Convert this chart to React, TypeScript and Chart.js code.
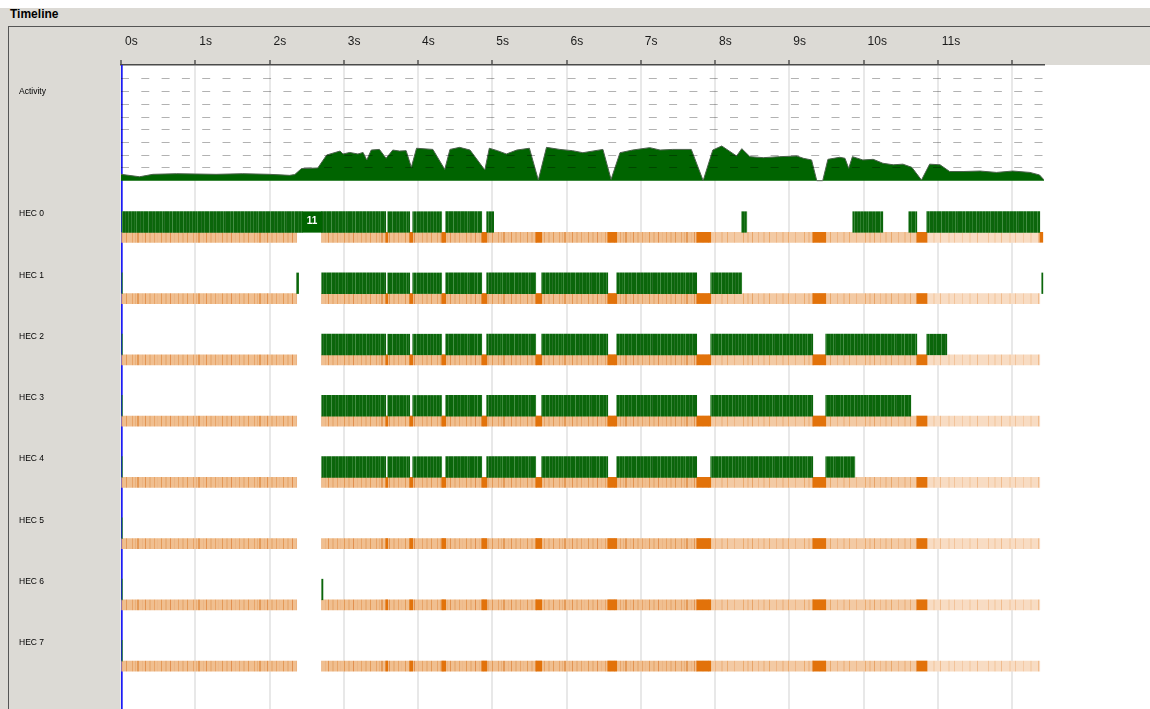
import React, { useEffect, useRef } from 'react';
import { Chart, registerables } from 'chart.js';

Chart.register(...registerables);

// ---- time axis (seconds) ----
const tickValues = [0, 1, 2, 3, 4, 5, 6, 7, 8, 9, 10, 11, 12];
const tickLabels = ['0s', '1s', '2s', '3s', '4s', '5s', '6s', '7s', '8s', '9s', '10s', '11s', ''];
const timeMax = 12.43;
const cursorTime = 0;

// ---- activity profile (number of busy capabilities) ----
const activityTime = [
  0.0, 0.25, 0.43, 0.75, 1.28, 1.64, 2.0, 2.27, 2.34, 2.43, 2.65, 2.77, 2.95, 2.99, 3.08, 3.19,
  3.26, 3.31, 3.37, 3.48, 3.57, 3.66, 3.75, 3.84, 3.91, 3.98, 4.2, 4.36, 4.43, 4.56, 4.7, 4.9,
  4.96, 5.07, 5.19, 5.33, 5.5, 5.62, 5.73, 5.91, 6.08, 6.22, 6.49, 6.6, 6.72, 6.89, 7.12, 7.26,
  7.43, 7.68, 7.84, 7.97, 8.09, 8.2, 8.29, 8.36, 8.47, 8.65, 8.87, 9.1, 9.19, 9.3, 9.37, 9.45,
  9.52, 9.68, 9.75, 9.8, 9.85, 9.99, 10.13, 10.26, 10.4, 10.53, 10.65, 10.78, 10.89, 11.03, 11.16,
  11.34, 11.57, 11.79, 12.01, 12.24, 12.37, 12.44,
];
const activityValue = [
  0.5, 0.31, 0.5, 0.55, 0.5, 0.55, 0.5, 0.42, 0.48, 0.95, 1.0, 2.02, 2.33, 2.1, 2.22, 2.1,
  2.22, 1.63, 2.41, 2.46, 1.76, 2.41, 2.33, 2.36, 1.05, 2.55, 2.46, 0.89, 2.46, 2.62, 2.41, 0.84,
  2.55, 2.36, 2.1, 2.41, 2.55, 0.05, 2.62, 2.46, 2.36, 2.2, 2.46, 0.1, 2.2, 2.41, 2.6, 2.41,
  2.46, 2.46, 0.0, 2.41, 2.73, 2.3, 1.94, 2.52, 1.89, 1.81, 1.89, 1.94, 1.76, 1.63, 0.0, 0.0,
  1.68, 1.84, 1.76, 0.97, 1.89, 1.63, 1.68, 1.37, 1.25, 1.3, 1.05, 0.05, 1.3, 1.25, 0.72,
  0.72, 0.76, 0.65, 0.76, 0.65, 0.45, 0.0,
];
const activityGridLevels = [1, 2, 3, 4, 5, 6, 7, 8];

// ---- capabilities ----
const hecNames = ['HEC 0', 'HEC 1', 'HEC 2', 'HEC 3', 'HEC 4', 'HEC 5', 'HEC 6', 'HEC 7'];

// running spans [start, end] in seconds
const hec0Runs = [
  [0.0, 2.44], [2.703, 3.565], [3.592, 3.888], [3.929, 4.319], [4.373, 4.858], [4.925, 5.019],
  [8.359, 8.427], [9.855, 10.259], [10.609, 10.717], [10.852, 12.373],
];
const hec1Runs = [
  [0.0, 0.02], [2.366, 2.393], [2.703, 3.565], [3.592, 3.888], [3.929, 4.319], [4.373, 4.858],
  [4.925, 5.585], [5.666, 6.555], [6.676, 7.753], [7.942, 8.359], [12.4, 12.415],
];
const hec2Runs = [
  [0.0, 0.02], [2.703, 3.565], [3.592, 3.888], [3.929, 4.319], [4.373, 4.858], [4.925, 5.585],
  [5.666, 6.555], [6.676, 7.753], [7.942, 9.316], [9.491, 10.717], [10.852, 11.121],
];
const hec3Runs = [
  [0.0, 0.02], [2.703, 3.565], [3.592, 3.888], [3.929, 4.319], [4.373, 4.858], [4.925, 5.585],
  [5.666, 6.555], [6.676, 7.753], [7.942, 9.316], [9.491, 10.636],
];
const hec4Runs = [
  [0.0, 0.02], [2.703, 3.565], [3.592, 3.888], [3.929, 4.319], [4.373, 4.858], [4.925, 5.585],
  [5.666, 6.555], [6.676, 7.753], [7.942, 9.316], [9.491, 9.882],
];
const hec5Runs = [[0.0, 0.02]];
const hec6Runs = [[0.0, 0.02], [2.703, 2.72]];
const hec7Runs = [[0.0, 0.02]];
const runsByHec = [hec0Runs, hec1Runs, hec2Runs, hec3Runs, hec4Runs, hec5Runs, hec6Runs, hec7Runs];

// long uninterrupted runs labelled with their thread id
const threadRunHec = [0];
const threadRunSpan = [[2.44, 2.703]];
const threadRunLabel = ['11'];

// GC activity strip: spans and density level (0 dense, 1 medium, 2 sparse)
const gcStripSpans = [[0.01, 2.366], [2.703, 7.753], [7.753, 9.316], [9.316, 10.717], [10.717, 12.373]];
const gcStripLevel = [0, 0, 1, 1, 2];
// stop-the-world collections, shared by every capability
const stwGcSpans = [
  [3.565, 3.592], [3.888, 3.929], [4.319, 4.373], [4.858, 4.925], [5.585, 5.666],
  [6.555, 6.676], [7.753, 7.942], [9.316, 9.491], [10.717, 10.852],
];
const tailGcHec = [0];
const tailGcSpan = [[12.373, 12.414]];

// ---- layout ----
const CANVAS_W = 1141;
const CANVAS_H = 682;
const AXIS_H = 38;
const PLOT_LEFT = 112;
const PLOT_RIGHT_PAD = 106;
const PLOT_H = CANVAS_H - AXIS_H;
const ACT_BASE = 115.7;
const ACT_UNIT = 12.72;
const ROW_PITCH = 61.25;
const RUN_ROW0 = 157;
const GC_ROW0 = 172.3;
const RUN_H = 20.6;
const GC_H = 10;
const PANEL_GRAY = '#dcdad5';
const FONT = '"Liberation Sans", Arial, Helvetica, sans-serif';

const runY = (k: number) => RUN_ROW0 + k * ROW_PITCH;
const gcY = (k: number) => GC_ROW0 + k * ROW_PITCH;

type Stripe = [number, number, string];

function stripePattern(ctx: CanvasRenderingContext2D, base: string, stripes: Stripe[], w: number) {
  const c = document.createElement('canvas');
  c.width = w;
  c.height = 2;
  const g = c.getContext('2d')!;
  g.fillStyle = base;
  g.fillRect(0, 0, w, 2);
  for (const [x, sw, col] of stripes) {
    g.fillStyle = col;
    g.fillRect(x, 0, sw, 2);
  }
  return ctx.createPattern(c, 'repeat')!;
}

export default function App() {
  const ref = useRef<HTMLCanvasElement | null>(null);

  useEffect(() => {
    const canvas = ref.current!;
    const ctx = canvas.getContext('2d')!;

    const runFill = stripePattern(ctx, '#0b660b', [
      [0, 1, '#2e7f2e'], [3, 1, '#1f751f'], [5, 1, '#3c8a3c'], [9, 1, '#236f23'], [12, 1, '#2e7f2e'],
      [17, 1, '#468f46'], [21, 1, '#236f23'], [24, 1, '#2e7f2e'], [28, 1, '#1f751f'], [31, 1, '#3c8a3c'],
      [33, 1, '#236f23'], [38, 1, '#2e7f2e'], [41, 1, '#468f46'], [45, 1, '#1f751f'], [48, 1, '#2e7f2e'],
      [52, 1, '#3c8a3c'], [55, 1, '#236f23'], [58, 1, '#2e7f2e'],
    ], 61);
    const gcFills = [
      stripePattern(ctx, '#f0bf90', [
        [1, 1, '#e8a468'], [4, 1, '#eab07a'], [6, 2, '#e49a58'], [11, 1, '#ecb584'], [14, 1, '#e39452'],
        [18, 2, '#eab07a'], [23, 1, '#e8a468'], [26, 1, '#eeb98a'], [30, 1, '#e49a58'], [34, 2, '#eab07a'],
        [39, 1, '#e29050'], [43, 1, '#ecb584'], [47, 1, '#e8a468'], [51, 2, '#eab07a'], [56, 1, '#e49a58'],
      ], 61),
      stripePattern(ctx, '#f3caa4', [
        [2, 1, '#ebab70'], [6, 2, '#efbb8c'], [11, 1, '#e8a468'], [17, 1, '#eeb584'], [22, 2, '#efbb8c'],
        [28, 1, '#e9a86c'], [35, 1, '#eeb584'], [41, 2, '#efbb8c'], [47, 1, '#ebab70'], [54, 1, '#eeb584'],
      ], 61),
      stripePattern(ctx, '#f8dcc3', [
        [3, 1, '#f2c39a'], [9, 2, '#f5d0ae'], [16, 1, '#f0bc8e'], [24, 2, '#f5d0ae'], [30, 1, '#f2c39a'],
        [38, 1, '#f4c9a4'], [45, 2, '#f5d0ae'], [53, 1, '#f0bc8e'],
      ], 61),
    ];

    const runData = runsByHec.flatMap((runs, k) => runs.map((s) => ({ x: s, y: runY(k) })));
    const threadData = threadRunSpan.map((s, i) => ({ x: s, y: runY(threadRunHec[i]), label: threadRunLabel[i] }));
    const stripData = hecNames.flatMap((_, k) =>
      gcStripSpans.map((s, i) => ({ x: s, y: gcY(k), level: gcStripLevel[i] })));
    const stwData = [
      ...hecNames.flatMap((_, k) => stwGcSpans.map((s) => ({ x: s, y: gcY(k) }))),
      ...tailGcSpan.map((s, i) => ({ x: s, y: gcY(tailGcHec[i]) })),
    ];

    const barCommon = {
      type: 'bar' as const,
      indexAxis: 'y' as const,
      xAxisID: 'x',
      grouped: false,
      barPercentage: 1,
      categoryPercentage: 1,
      borderWidth: 0,
    };

    const timelinePanel = {
      id: 'timelinePanel',
      beforeDraw(chart: any) {
        const { ctx: c, chartArea } = chart;
        c.save();
        c.fillStyle = '#ffffff';
        c.fillRect(chartArea.left, chartArea.top, chart.width - chartArea.left, chartArea.bottom - chartArea.top);
        c.restore();
      },
      beforeDatasetsDraw(chart: any) {
        const { ctx: c, chartArea, scales } = chart;
        const x = scales.x.getPixelForValue(cursorTime);
        c.save();
        c.fillStyle = '#1c1cf5';
        c.fillRect(x, chartArea.top, 1.7, chartArea.bottom - chartArea.top);
        c.restore();
      },
      afterDatasetsDraw(chart: any) {
        const { ctx: c, scales } = chart;
        c.save();
        c.fillStyle = '#ffffff';
        c.font = `bold 10px ${FONT}`;
        c.textAlign = 'center';
        c.textBaseline = 'middle';
        threadData.forEach((d) => {
          const xm = (scales.x.getPixelForValue(d.x[0]) + scales.x.getPixelForValue(d.x[1])) / 2;
          c.fillText(d.label, xm, scales.yRun.getPixelForValue(d.y) - 0.5);
        });
        c.restore();
      },
      afterDraw(chart: any) {
        const { ctx: c, chartArea, scales } = chart;
        c.save();
        c.fillStyle = '#000000';
        c.font = `8.5px ${FONT}`;
        c.textAlign = 'left';
        c.textBaseline = 'middle';
        c.fillText('Activity', 10, chartArea.top + 27);
        hecNames.forEach((name, k) => {
          c.fillText(name, 10, scales.yRun.getPixelForValue(runY(k)) - 8);
        });
        c.restore();
      },
    };

    const chart = new Chart(canvas, {
      type: 'line',
      data: {
        datasets: [
          {
            type: 'line',
            label: 'Activity',
            xAxisID: 'x',
            yAxisID: 'yAct',
            data: activityTime.map((t, i) => ({ x: t, y: activityValue[i] })),
            borderColor: '#4b614b',
            borderWidth: 1,
            backgroundColor: '#006400',
            fill: 'origin',
            pointRadius: 0,
            tension: 0,
            order: 1,
          },
          {
            ...barCommon,
            label: 'thread runs',
            yAxisID: 'yRun',
            data: threadData,
            backgroundColor: '#006400',
            barThickness: RUN_H,
            maxBarThickness: RUN_H,
            order: 2,
          },
          {
            ...barCommon,
            label: 'running',
            yAxisID: 'yRun',
            data: runData,
            backgroundColor: runFill,
            barThickness: RUN_H,
            maxBarThickness: RUN_H,
            order: 3,
          },
          {
            ...barCommon,
            label: 'stop-the-world GC',
            yAxisID: 'yGc',
            data: stwData,
            backgroundColor: '#e2720a',
            barThickness: GC_H,
            maxBarThickness: GC_H,
            order: 4,
          },
          {
            ...barCommon,
            label: 'GC',
            yAxisID: 'yGc',
            data: stripData,
            backgroundColor: (c: any) => gcFills[c.raw ? c.raw.level : 0],
            barThickness: GC_H,
            maxBarThickness: GC_H,
            order: 5,
          },
        ] as any,
      },
      options: {
        responsive: false,
        maintainAspectRatio: false,
        animation: false,
        events: [],
        layout: { padding: { left: PLOT_LEFT, right: PLOT_RIGHT_PAD, top: 0, bottom: 0 } },
        plugins: { legend: { display: false }, tooltip: { enabled: false } },
        scales: {
          x: {
            type: 'linear',
            position: 'top',
            min: 0,
            max: timeMax,
            offset: false,
            afterBuildTicks: (s: any) => {
              s.ticks = tickValues.map((v) => ({ value: v }));
            },
            afterFit: (s: any) => {
              s.height = AXIS_H;
            },
            ticks: {
              autoSkip: false,
              maxRotation: 0,
              minRotation: 0,
              align: 'start',
              labelOffset: 4,
              padding: 11,
              color: '#1a1a1a',
              font: { family: FONT, size: 12 },
              callback: (_v: any, i: number) => tickLabels[i] ?? '',
            },
            grid: {
              color: '#e8e8e8',
              lineWidth: 2,
              drawTicks: true,
              tickLength: 5,
              tickColor: '#333333',
              tickWidth: 1.2,
              offset: false,
            },
            border: { display: true, color: '#4a4a4a', width: 1.5 },
          },
          yAct: {
            type: 'linear',
            position: 'left',
            min: ACT_BASE / ACT_UNIT - PLOT_H / ACT_UNIT,
            max: ACT_BASE / ACT_UNIT,
            afterBuildTicks: (s: any) => {
              s.ticks = activityGridLevels.map((v) => ({ value: v }));
            },
            afterFit: (s: any) => {
              s.width = 0;
            },
            ticks: { display: false },
            grid: { color: 'rgba(0,0,0,0.3)', lineWidth: 1, drawTicks: false, z: 1 },
            border: { display: false, dash: [8, 12.3] },
          },
          yRun: {
            type: 'linear',
            position: 'left',
            display: false,
            reverse: true,
            min: 0,
            max: PLOT_H,
            offset: false,
            grid: { offset: false },
          },
          yGc: {
            type: 'linear',
            position: 'left',
            display: false,
            reverse: true,
            min: 0,
            max: PLOT_H,
            offset: false,
            grid: { offset: false },
          },
        },
      } as any,
      plugins: [timelinePanel],
    });

    return () => chart.destroy();
  }, []);

  return (
    <div
      style={{
        position: 'absolute',
        left: 0,
        top: 0,
        width: 1150,
        height: 709,
        background: '#ffffff',
        overflow: 'hidden',
        fontFamily: FONT,
      }}
    >
      <div style={{ position: 'absolute', left: 0, top: 8, width: 1150, height: 18, background: PANEL_GRAY }}>
        <span
          style={{
            position: 'absolute',
            left: 10,
            top: -1,
            fontWeight: 'bold',
            fontSize: 12,
            lineHeight: '14px',
            color: '#000',
          }}
        >
          Timeline
        </span>
      </div>
      <div style={{ position: 'absolute', left: 0, top: 26, width: 1150, height: 683, background: PANEL_GRAY }} />
      <div
        style={{
          position: 'absolute',
          left: 8,
          top: 26,
          width: CANVAS_W,
          height: CANVAS_H,
          borderLeft: '1px solid #555',
          borderTop: '1px solid #555',
        }}
      >
        <canvas
          ref={ref}
          width={CANVAS_W}
          height={CANVAS_H}
          style={{ display: 'block', width: CANVAS_W, height: CANVAS_H }}
        />
      </div>
    </div>
  );
}
